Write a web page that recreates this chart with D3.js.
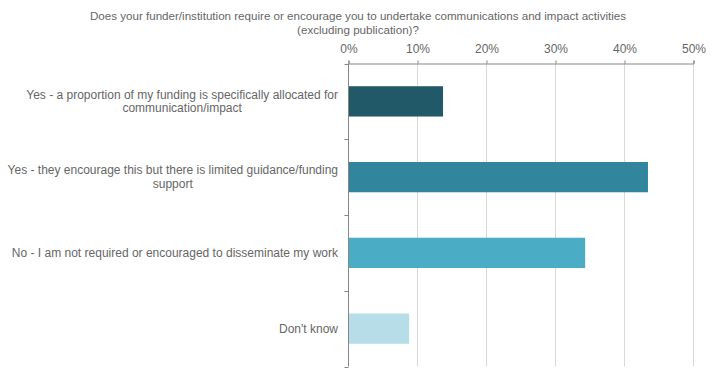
<!DOCTYPE html>
<html>
<head>
<meta charset="utf-8">
<script src="https://cdn.jsdelivr.net/npm/d3@7"></script>
<style>
  html, body { margin: 0; padding: 0; background: #fff; }
  svg { display: block; }
  text { font-family: "Liberation Sans", Arial, Helvetica, sans-serif; fill: #666; }
</style>
</head>
<body>
<svg id="chart" width="717" height="378"></svg>
<script>
const titleLines = [
  "Does your funder/institution require or encourage you to undertake communications and impact activities",
  "(excluding publication)?"
];
const categories = [
  "Yes - a proportion of my funding is specifically allocated for\ncommunication/impact",
  "Yes - they encourage this but there is limited guidance/funding\nsupport",
  "No - I am not required or encouraged to disseminate my work",
  "Don't know"
];
const values = [0.137, 0.434, 0.343, 0.088];
const barColors = ["#215968", "#31859C", "#4BACC6", "#B7DEE8"];
const xTicks = [0, 0.1, 0.2, 0.3, 0.4, 0.5];

const svg = d3.select("#chart");
const mLeft = 348.5, mRight = 693.5, mTop = 63.5, mBottom = 366.5;

const x = d3.scaleLinear().domain([0, 0.5]).range([mLeft, mRight]);
const y = d3.scaleBand().domain(categories).range([mTop, mBottom])
  .paddingInner(0.6).paddingOuter(0.3);

// Title
const title = svg.append("text")
  .attr("text-anchor", "middle")
  .style("font-size", "11.6px");
titleLines.forEach((t, i) => {
  title.append("tspan").attr("x", 358).attr("y", 20 + i * 14).text(t);
});

// gridlines
svg.append("g").selectAll("line")
  .data(xTicks.filter(d => d > 0))
  .join("line")
  .attr("x1", d => x(d)).attr("x2", d => x(d))
  .attr("y1", mTop).attr("y2", mBottom)
  .attr("stroke", "#d9d9d9").attr("stroke-width", 1);

// bars
svg.append("g").selectAll("rect")
  .data(categories)
  .join("rect")
  .attr("x", x(0))
  .attr("y", d => y(d))
  .attr("width", (d, i) => x(values[i]) - x(0))
  .attr("height", y.bandwidth())
  .attr("fill", (d, i) => barColors[i]);

// x axis at top
const xAxis = d3.axisTop(x)
  .tickValues(xTicks)
  .tickFormat(d3.format(".0%"))
  .tickSize(3)
  .tickPadding(8);
const gx = svg.append("g").attr("transform", `translate(0,${mTop})`).call(xAxis);
gx.select(".domain").attr("stroke", "#868686");
gx.selectAll(".tick line").attr("stroke", "#868686");
gx.selectAll(".tick text").style("font-size", "12px").attr("fill", "#666")
  .style("font-family", '"Liberation Sans", Arial, sans-serif');

// y axis line
const step = y.step();
const boundaries = d3.range(categories.length + 1).map(i => mTop + i * step);
svg.append("line")
  .attr("x1", mLeft).attr("x2", mLeft).attr("y1", mTop).attr("y2", mBottom)
  .attr("stroke", "#868686");
svg.append("g").selectAll("line")
  .data(boundaries)
  .join("line")
  .attr("x1", mLeft - 4).attr("x2", mLeft)
  .attr("y1", d => Math.round(d) + 0.5).attr("y2", d => Math.round(d) + 0.5)
  .attr("stroke", "#868686");

// category labels
const labelRight = 338;
const lineH = 13.7;
categories.forEach(cat => {
  const lines = cat.split("\n");
  const g = svg.append("text").attr("text-anchor", "middle").style("font-size", "12px");
  const cy = y(cat) + y.bandwidth() / 2;
  const spans = lines.map((l, i) => g.append("tspan")
    .attr("y", cy + 4 + (i - (lines.length - 1) / 2) * lineH).text(l));
  const maxW = d3.max(spans, s => s.node().getComputedTextLength());
  spans.forEach(s => s.attr("x", labelRight - maxW / 2));
});
</script>
</body>
</html>
